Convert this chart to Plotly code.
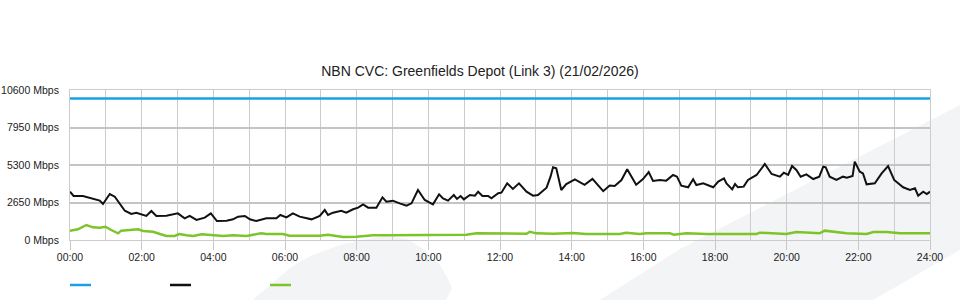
import plotly.graph_objects as go

# ---------------- data ----------------
title = "NBN CVC: Greenfields Depot (Link 3) (21/02/2026)"

capacity_hours = [0, 24]
capacity_mbps = [10000, 10000]

total_hours = [0.00, 0.10, 0.36, 0.64, 0.83, 0.92, 1.11, 1.25, 1.39, 1.53, 1.71, 1.85,
               2.13, 2.27, 2.41, 2.69, 3.01, 3.20, 3.34, 3.53, 3.76, 3.93, 4.10, 4.37,
               4.55, 4.69, 4.88, 5.02, 5.20, 5.48, 5.76, 5.87, 6.04, 6.22, 6.41, 6.74,
               6.97, 7.11, 7.20, 7.34, 7.57, 7.71, 7.90, 8.04, 8.18, 8.32, 8.55, 8.72,
               8.83, 9.01, 9.20, 9.39, 9.53, 9.71, 9.90, 10.13, 10.30, 10.41, 10.55, 10.71,
               10.80, 10.90, 10.99, 11.16, 11.30, 11.39, 11.51, 11.67, 11.76, 11.95, 12.04, 12.20,
               12.36, 12.53, 12.74, 12.92, 13.06, 13.30, 13.41, 13.48, 13.57, 13.71, 13.85, 14.09,
               14.36, 14.58, 14.88, 15.06, 15.20, 15.39, 15.55, 15.80, 15.99, 16.15, 16.27, 16.46,
               16.64, 16.83, 16.94, 17.06, 17.25, 17.39, 17.48, 17.67, 17.95, 18.09, 18.25, 18.32,
               18.48, 18.56, 18.64, 18.80, 18.92, 19.16, 19.39, 19.58, 19.81, 19.92, 20.04, 20.15,
               20.27, 20.39, 20.55, 20.74, 20.91, 21.02, 21.09, 21.20, 21.39, 21.57, 21.68, 21.84,
               21.90, 22.04, 22.13, 22.23, 22.46, 22.65, 22.83, 23.00, 23.25, 23.44, 23.58, 23.67,
               23.81, 23.91, 24.00]
total_mbps = [3415, 3110, 3110, 2945, 2780, 2545, 3250, 3060, 2545, 2070, 1840, 1930,
              1700, 2050, 1700, 1720, 1885, 1530, 1700, 1415, 1580, 1885, 1340, 1365,
              1460, 1650, 1700, 1460, 1340, 1530, 1530, 1765, 1600, 1885, 1650, 1460,
              1700, 2120, 1765, 1930, 2070, 1930, 2170, 2285, 2520, 2285, 2285, 3015,
              2710, 2780, 2590, 2425, 2590, 3535, 2830, 2520, 3230, 2945, 2780, 3180,
              2900, 3110, 2875, 3180, 3130, 3415, 3110, 3110, 2945, 3300, 3345, 4005,
              3605, 4005, 3415, 3130, 3180, 3700, 4475, 5135, 5065, 3535, 3950, 4290,
              3900, 4320, 3450, 3850, 3815, 4240, 5005, 3910, 4300, 4800, 4170, 4240,
              4195, 4595, 4475, 3840, 3725, 4290, 3885, 4005, 3725, 4125, 4360, 4005,
              3580, 3955, 3725, 3770, 4240, 4595, 5370, 4665, 4475, 4755, 4595, 5230,
              4945, 4475, 4640, 4310, 4475, 5180, 5135, 4475, 4240, 4475, 4405, 4525,
              5535, 4830, 4710, 3935, 4005, 4710, 5230, 4240, 3725, 3535, 3650, 3130,
              3415, 3250, 3415]

other_hours = [0.00, 0.22, 0.46, 0.64, 0.83, 0.99, 1.15, 1.34, 1.43, 1.66, 1.90, 2.04,
               2.32, 2.51, 2.69, 2.92, 3.05, 3.25, 3.44, 3.67, 4.00, 4.28, 4.55, 4.93,
               5.11, 5.34, 5.48, 5.94, 6.13, 6.97, 7.20, 7.34, 7.62, 7.99, 8.46, 8.83,
               10.13, 10.69, 11.06, 11.34, 11.99, 12.74, 12.83, 13.02, 13.48, 14.04, 14.40, 15.34,
               15.52, 15.90, 16.09, 16.74, 16.85, 17.20, 17.76, 19.16, 19.25, 19.99, 20.27, 20.92,
               21.06, 21.39, 21.67, 22.23, 22.42, 22.79, 23.16, 24.00]
other_mbps = [660, 755, 1060, 895, 870, 940, 705, 470, 660, 705, 755, 635,
              585, 425, 285, 285, 425, 330, 285, 400, 330, 285, 330, 285,
              375, 470, 425, 425, 305, 305, 375, 330, 210, 235, 330, 330,
              375, 375, 375, 470, 470, 445, 585, 470, 445, 500, 425, 425,
              518, 425, 470, 470, 375, 470, 425, 425, 518, 425, 565, 470,
              660, 565, 470, 425, 565, 565, 470, 470]

y_ticks = [0, 2650, 5300, 7950, 10600]
y_tick_labels = ["0 Mbps", "2650 Mbps", "5300 Mbps", "7950 Mbps", "10600 Mbps"]
x_ticks = list(range(0, 25, 2))
x_tick_labels = [f"{h:02d}:00" for h in x_ticks]

series_colors = ["#1ba1e2", "#111111", "#7dc42a"]

# ---------------- figure ----------------
FONT = "Liberation Sans, Arial, Helvetica, sans-serif"
fig = go.Figure()
fig.add_trace(go.Scatter(x=capacity_hours, y=capacity_mbps, mode="lines",
                         line=dict(color=series_colors[0], width=2.5), hoverinfo="skip"))
fig.add_trace(go.Scatter(x=total_hours, y=total_mbps, mode="lines",
                         line=dict(color=series_colors[1], width=2), hoverinfo="skip"))
fig.add_trace(go.Scatter(x=other_hours, y=other_mbps, mode="lines",
                         line=dict(color=series_colors[2], width=2.5), hoverinfo="skip"))

# plot-area pixel geometry (for decorative shapes only)
PX0, PX1, PY0, PY1 = 70, 930, 90, 240
def px(x, y):
    return (x - PX0) / (PX1 - PX0), (PY1 - y) / (PY1 - PY0)

def path(points):
    pts = [px(*p) for p in points]
    d = "M " + " L ".join(f"{a:.5f},{b:.5f}" for a, b in pts) + " Z"
    return d

watermark_color = "#f3f4f6"
blade = [(253, 300), (270, 285), (290, 268), (310, 256), (340, 245), (367, 239),
         (387, 236), (407, 239), (425, 250), (440, 265), (447, 277), (452, 288), (446, 300)]
band = [(600, 300), (680, 249), (960, 105), (960, 250), (873, 300)]

shapes = []
for poly in (blade, band):
    shapes.append(dict(type="path", xref="paper", yref="paper", path=path(poly),
                       fillcolor=watermark_color, line=dict(width=0), layer="below"))

# legend swatches
for i, c in enumerate(series_colors):
    x0, y0 = px(70 + 100 * i, 285)
    x1, _ = px(91 + 100 * i, 285)
    shapes.append(dict(type="line", xref="paper", yref="paper", x0=x0, x1=x1, y0=y0, y1=y0,
                       line=dict(color=c, width=2.5)))

fig.update_layout(
    width=960, height=300,
    margin=dict(l=70, r=30, t=90, b=60, autoexpand=False),
    paper_bgcolor="white", plot_bgcolor="rgba(0,0,0,0)",
    showlegend=False,
    font=dict(family=FONT, size=10.5, color="#222222"),
    title=dict(text=title, x=0.5, xanchor="center", y=1 - 71 / 300, yanchor="middle",
               font=dict(family=FONT, size=14, color="#222222")),
    shapes=shapes,
)
fig.update_xaxes(range=[0, 24], tickvals=x_ticks, ticktext=x_tick_labels,
                 showgrid=True, gridcolor="#cccccc", gridwidth=1,
                 minor=dict(dtick=1, tick0=0, showgrid=True, gridcolor="#cccccc", gridwidth=1),
                 ticks="outside", ticklen=9, tickcolor="#c8c8c8", tickwidth=1,
                 ticklabelstandoff=-2, automargin=False,
                 showline=True, linecolor="#cccccc", linewidth=1, mirror=True,
                 zeroline=False, tickfont=dict(size=10.5, color="#222222"))
fig.update_yaxes(range=[0, 10600], tickvals=y_ticks, ticktext=y_tick_labels,
                 showgrid=True, gridcolor="#c4c4c4", gridwidth=2,
                 ticks="", ticklabelstandoff=8, automargin=False,
                 showline=True, linecolor="#cccccc", linewidth=1, mirror=True,
                 zeroline=False, tickfont=dict(size=10.5, color="#222222"))

fig.write_html("out.html")
